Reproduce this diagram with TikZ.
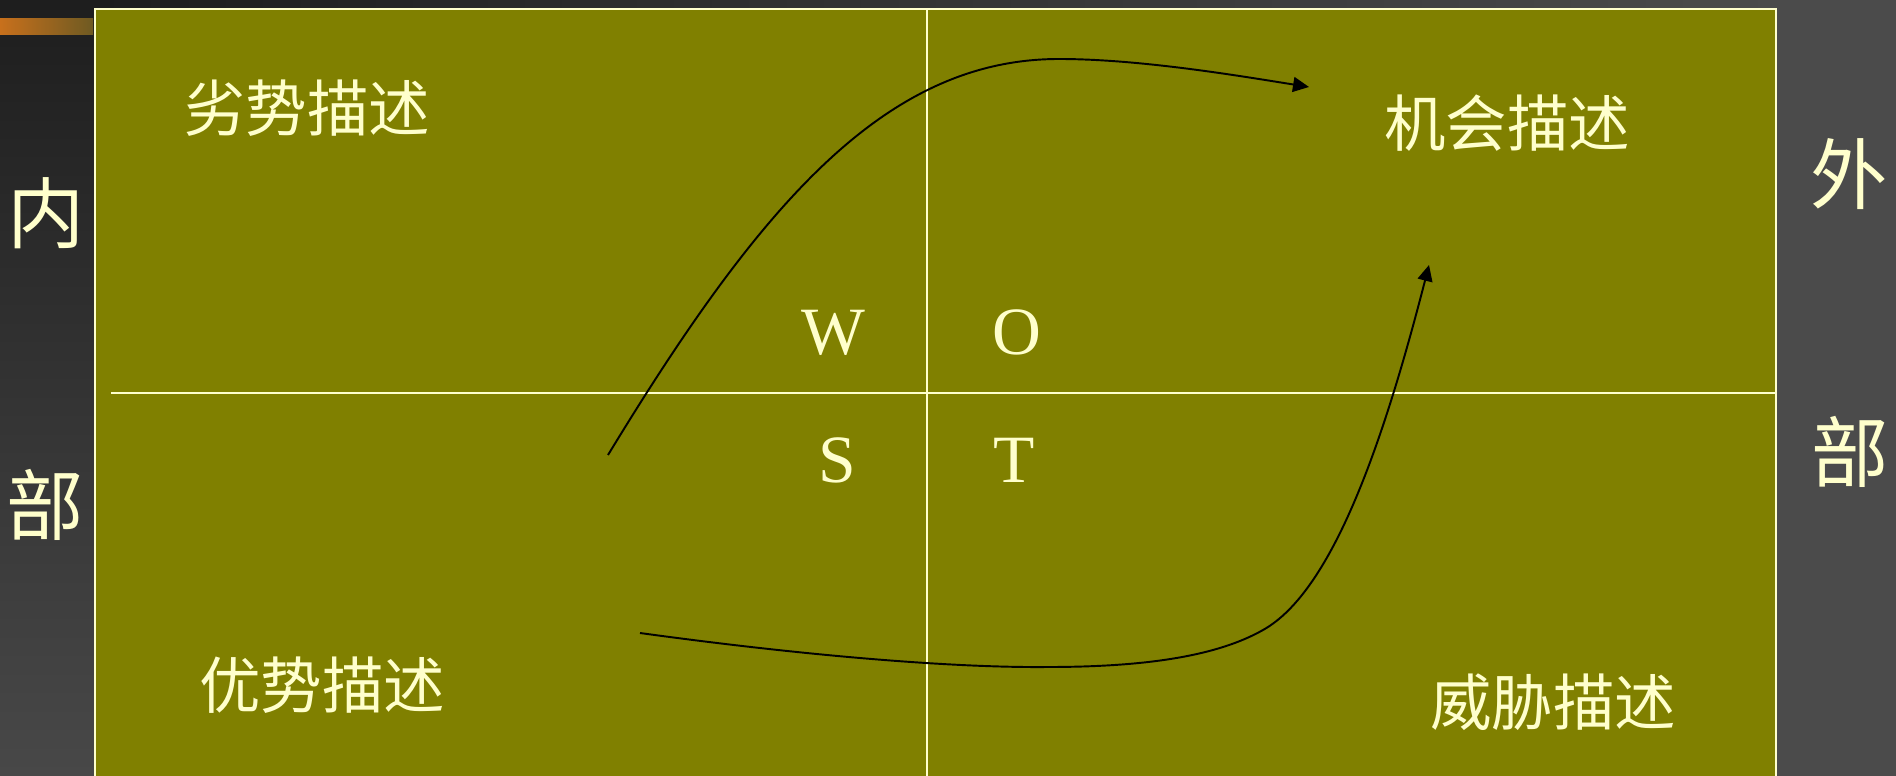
\documentclass[tikz,border=0pt]{standalone}
\usepackage{fontspec}
\setmainfont{Liberation Serif}
\newfontfamily\cjk{Noto Sans CJK SC}
\usetikzlibrary{arrows.meta}
\definecolor{swotolive}{HTML}{808000}
\definecolor{paleyel}{HTML}{FFFFCC}
\definecolor{slate}{HTML}{4B4B4B}
\definecolor{dkslate}{HTML}{1E1E1E}
\definecolor{midslate}{HTML}{484848}
\definecolor{rust}{HTML}{C8701C}
\definecolor{rustred}{HTML}{A84A14}
\definecolor{rustbrown}{HTML}{6E5A22}

\tikzset{
  quadlabel/.style={font=\cjk\fontsize{35}{40}\selectfont, text=paleyel, inner sep=0pt},
  sidelabel/.style={font=\cjk\fontsize{44}{50}\selectfont, text=paleyel, inner sep=0pt},
  letter/.style={font=\fontsize{38.5}{44}\selectfont, text=paleyel, anchor=base, inner sep=0pt},
  divider/.style={paleyel, line width=1.1pt},
  flow/.style={->, black, line width=1.1pt}
}

\begin{document}
\begin{tikzpicture}[x=0.02cm, y=-0.02cm, >={Triangle[length=3.2mm, width=3mm]}]

% Background
\fill[slate] (0,0) rectangle (1896,776);
\shade[top color=dkslate, bottom color=midslate] (0,0) rectangle (95,776);
\shade[left color=dkslate, right color=slate] (95,0) rectangle (1776,9);
\shade[left color=rust, middle color=rustred, right color=rustbrown] (0,19) rectangle (93,35);
\useasboundingbox (0,0) rectangle (1896,776);

% SWOT board
\fill[swotolive] (95,9) rectangle (1776,780);
\draw[divider] (95,780) -- (95,9) -- (1776,9) -- (1776,780);
\draw[divider] (111,393) -- (1776,393);
\draw[divider] (927,9) -- (927,780);

% Quadrant texts
\node[quadlabel] (weak) at (307,108) {劣势描述};
\node[quadlabel] (chance) at (1507,123) {机会描述};
\node[quadlabel] (strong) at (322,685) {优势描述};
\node[quadlabel] (threat) at (1553,702) {威胁描述};

% Letters
\node[letter] (w) at (833,355) {W};
\node[letter] (o) at (1017,355) {O};
\node[letter] (s) at (837,482) {S};
\node[letter] (t) at (1014,482) {T};

% Side texts
\node[sidelabel] (inner1) at (46,213) {内};
\node[sidelabel] (inner2) at (45,505) {部};
\node[sidelabel] (outer1) at (1849,174) {外};
\node[sidelabel] (outer2) at (1850,452) {部};

% Arrows
\coordinate (s0) at (608,455);
\coordinate (o0) at (1309,87);
\draw[flow] (s0) .. controls (760,205) and (885,59) .. (1059,59)
  .. controls (1140,59) and (1240,76) .. (o0);

\coordinate (s1) at (640,633);
\coordinate (o1) at (1429,265);
\draw[flow] (s1) .. controls (800,655) and (950,668) .. (1048,667)
  .. controls (1150,667) and (1219,655) .. (1263,630)
  .. controls (1333,591) and (1384,440) .. (o1);

\end{tikzpicture}
\end{document}
